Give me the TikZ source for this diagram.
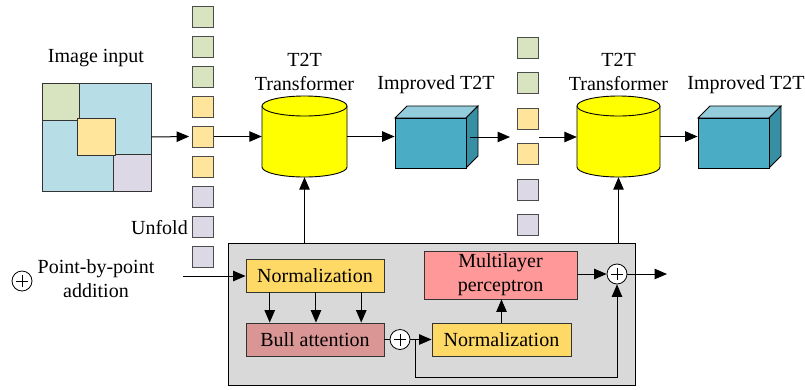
\documentclass[tikz,border=0pt]{standalone}
\usepackage{fontspec}
\setmainfont{Liberation Serif}
\usetikzlibrary{arrows.meta,calc}

\definecolor{tokgreen}{HTML}{D7E4BF}
\definecolor{tokyellow}{HTML}{FFE49C}
\definecolor{toklav}{HTML}{DDD8E5}
\definecolor{imgblue}{HTML}{B7DDE7}
\definecolor{cylyellow}{HTML}{FFFF00}
\definecolor{cubefront}{HTML}{4BACC6}
\definecolor{cubetop}{HTML}{93CDDC}
\definecolor{cubeside}{HTML}{378FA4}
\definecolor{panelgray}{HTML}{D9D9D9}
\definecolor{normfill}{HTML}{FFD966}
\definecolor{attfill}{HTML}{D99694}
\definecolor{mlpfill}{HTML}{FF9999}

\tikzset{
  txt/.style={font=\fontsize{20}{24}\selectfont, inner sep=0pt, align=center},
  tok/.style={draw=black!70, line width=0.8pt, minimum size=21pt, inner sep=0pt},
  arr/.style={-{Triangle[length=12.5pt,width=10.5pt]}, line width=1pt},
  blk/.style={draw=black!80, line width=0.9pt, inner sep=0pt,
    font=\fontsize{20}{24}\selectfont, align=center},
  addop/.style={circle, draw, fill=white, line width=0.8pt, minimum size=20pt,
    inner sep=0pt, path picture={
      \draw[line width=0.6pt] (path picture bounding box.center) ++(-6pt,0) -- ++(12pt,0);
      \draw[line width=0.6pt] (path picture bounding box.center) ++(0,-6pt) -- ++(0,12pt);}},
}

\begin{document}
\begin{tikzpicture}[x=1pt,y=1pt,yscale=-1]
\useasboundingbox (0,0) rectangle (805,389);

% ---------- image input ----------
\node[txt] (imglabel) at (96,58) {Image input};
\node[draw=black!80, line width=0.8pt, fill=imgblue, minimum width=109pt,
      minimum height=108pt, inner sep=0pt] (img) at (96.5,137) {};
\draw[draw=black!80, line width=0.8pt, fill=tokgreen] (42,83) rectangle (79,120);
\draw[draw=black!80, line width=0.8pt, fill=toklav] (113,154) rectangle (151,191);
\draw[draw=black!80, line width=0.8pt, fill=tokyellow] (77,118) rectangle (115,155);

% ---------- first token column ----------
\foreach \i/\c in {1/tokgreen,2/tokgreen,3/tokgreen,4/tokyellow,5/tokyellow,
                   6/tokyellow,7/toklav,8/toklav,9/toklav}
  \node[tok, fill=\c] (a\i) at (203,{16.5+30*(\i-1)}) {};
\node[txt, anchor=east] (unfold) at (188,228) {Unfold};

% ---------- first T2T transformer (cylinder) ----------
\node[txt] (t2tlabel1) at (304.5,72) {T2T\\Transformer};
\fill[cylyellow] (262,106) -- (262,167)
  arc[start angle=180, end angle=0, x radius=42.5pt, y radius=10pt]
  -- (347,106) -- cycle;
\draw[line width=0.9pt] (262,106) -- (262,167)
  arc[start angle=180, end angle=0, x radius=42.5pt, y radius=10pt] -- (347,106);
\draw[line width=0.9pt, fill=cylyellow] (304.5,106) ellipse [x radius=42.5pt, y radius=10pt];
\node[minimum width=85pt, minimum height=81pt, inner sep=0pt] (cyl1) at (304.5,136.5) {};

% ---------- first improved T2T (cube) ----------
\node[txt] (implabel1) at (436,85) {Improved T2T};
\draw[line width=0.9pt, fill=cubetop] (395,118) -- (407,106) -- (478,106) -- (466,118) -- cycle;
\draw[line width=0.9pt, fill=cubeside] (466,118) -- (478,106) -- (478,156) -- (466,168) -- cycle;
\node[draw, line width=0.9pt, fill=cubefront, minimum width=71pt, minimum height=50pt,
      inner sep=0pt] (cube1) at (430.5,143) {};

% ---------- second token column ----------
\foreach \i/\c/\y in {1/tokgreen/48,2/tokgreen/83,3/tokyellow/118.5,
                      4/tokyellow/154,5/toklav/189.5,6/toklav/225}
  \node[tok, fill=\c] (b\i) at (527.5,\y) {};

% ---------- second T2T transformer ----------
\node[txt] (t2tlabel2) at (618.5,72) {T2T\\Transformer};
\fill[cylyellow] (577,106) -- (577,167)
  arc[start angle=180, end angle=0, x radius=41.5pt, y radius=10pt]
  -- (660,106) -- cycle;
\draw[line width=0.9pt] (577,106) -- (577,167)
  arc[start angle=180, end angle=0, x radius=41.5pt, y radius=10pt] -- (660,106);
\draw[line width=0.9pt, fill=cylyellow] (618.5,106) ellipse [x radius=41.5pt, y radius=10pt];
\node[minimum width=83pt, minimum height=81pt, inner sep=0pt] (cyl2) at (618.5,136.5) {};

% ---------- second improved T2T ----------
\node[txt] (implabel2) at (746,85) {Improved T2T};
\draw[line width=0.9pt, fill=cubetop] (698,118) -- (710,106) -- (781,106) -- (769,118) -- cycle;
\draw[line width=0.9pt, fill=cubeside] (769,118) -- (781,106) -- (781,156) -- (769,168) -- cycle;
\node[draw, line width=0.9pt, fill=cubefront, minimum width=71pt, minimum height=50pt,
      inner sep=0pt] (cube2) at (733.5,143) {};

% ---------- top row connectors ----------
\coordinate (c1out) at (470,137);
\coordinate (gapin) at (510,137);
\coordinate (gapout) at (539,137);
\draw[arr] (img.east) -- ([xshift=-3pt]a5.west);
\draw[arr] (a5.east) -- (cyl1.west);
\draw[arr] (cyl1.east) -- (cyl1.east -| cube1.west);
\draw[arr] (c1out) -- (gapin);
\draw[arr] (gapout) -- (gapout -| cyl2.west);
\draw[arr] (cyl2.east) -- (cyl2.east -| cube2.west);

% ---------- encoder panel ----------
\node[draw, line width=0.9pt, fill=panelgray, minimum width=407pt, minimum height=142pt,
      inner sep=0pt] (panel) at (431.5,314) {};
\node[blk, fill=normfill, minimum width=138pt, minimum height=33pt] (norm1) at (315,275.5) {Normalization};
\node[blk, fill=attfill, minimum width=138pt, minimum height=33pt] (bull) at (315,339.5) {Bull attention};
\node[blk, fill=normfill, minimum width=139pt, minimum height=33pt] (norm2) at (501.5,339.5) {Normalization};
\node[blk, fill=mlpfill, minimum width=153pt, minimum height=48pt] (mlp) at (500.5,275) {Multilayer\\perceptron};
\node[addop] (add1) at (400,339.5) {};
\node[addop] (add2) at (617,274) {};

\coordinate (inL) at (183,276);
\coordinate (br) at (415,339.5);
\coordinate (skip) at (415,377);
\coordinate (outR) at (667,274);

\draw[arr] (inL) -- (inL -| norm1.west);
\foreach \f in {0.174,0.507,0.833}
  \draw[arr] ($(norm1.south west)!\f!(norm1.south east)$) -- ($(bull.north west)!\f!(bull.north east)$);
\draw[line width=1pt] (bull.east) -- (add1.west);
\draw[arr] (add1.east) -- (norm2.west);
\draw[arr] (br) -- (skip) -| (add2.south);
\draw[arr] (norm2.north) -- (norm2.north |- mlp.south);
\draw[arr] (mlp.east |- add2.west) -- (add2.west);
\draw[arr] (add2.east) -- (outR);
\draw[arr] (panel.north -| cyl1.south) -- (cyl1.south);
\draw[arr] (panel.north -| cyl2.south) -- (cyl2.south);

% ---------- legend ----------
\node[addop] (legplus) at (22,281) {};
\node[txt] (legtext) at (96,278.5) {Point-by-point\\addition};
\end{tikzpicture}
\end{document}
